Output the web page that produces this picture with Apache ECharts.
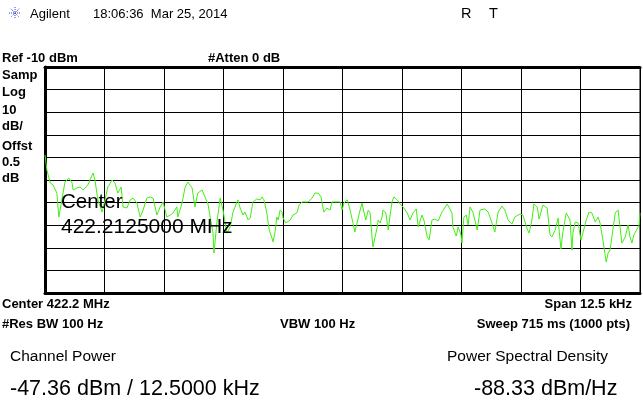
<!DOCTYPE html>
<html>
<head>
<meta charset="utf-8">
<script src="https://cdn.jsdelivr.net/npm/echarts@6/dist/echarts.min.js"></script>
<style>
  html, body { margin: 0; padding: 0; background: #fff; }
  #main { width: 643px; height: 406px; }
</style>
</head>
<body>
<div id="main"></div>
<script>
// trace: frequency from start of span (kHz) and level (dBm)
const freqKHz = [
  0, 0.04, 0.11, 0.17, 0.25, 0.29, 0.42, 0.50, 0.57, 0.59, 0.67, 0.74, 0.80, 0.90, 1.01, 1.05, 1.11, 1.20, 1.26, 1.32,
  1.41, 1.47, 1.53, 1.60, 1.64, 1.72, 1.79, 1.85, 1.93, 2.00, 2.06, 2.14, 2.21, 2.27, 2.35, 2.42, 2.48, 2.56, 2.63, 2.69,
  2.77, 2.79, 2.88, 2.94, 3.00, 3.09, 3.15, 3.21, 3.30, 3.36, 3.42, 3.47, 3.53, 3.55, 3.61, 3.68, 3.74, 3.82, 3.89, 3.95,
  4.05, 4.10, 4.16, 4.20, 4.27, 4.31, 4.37, 4.45, 4.52, 4.56, 4.60, 4.66, 4.71, 4.77, 4.79, 4.83, 4.87, 4.90, 4.94, 4.98,
  5.00, 5.06, 5.15, 5.21, 5.29, 5.34, 5.40, 5.53, 5.61, 5.67, 5.74, 5.80, 5.84, 5.86, 5.92, 5.99, 6.03, 6.20, 6.24, 6.28,
  6.35, 6.41, 6.47, 6.51, 6.56, 6.62, 6.66, 6.70, 6.74, 6.79, 6.83, 6.87, 6.89, 6.93, 6.98, 7.00, 7.04, 7.08, 7.10, 7.16,
  7.21, 7.25, 7.29, 7.33, 7.40, 7.46, 7.52, 7.61, 7.67, 7.73, 7.80, 7.84, 7.92, 7.96, 8.03, 8.07, 8.13, 8.19, 8.26, 8.34,
  8.45, 8.49, 8.55, 8.57, 8.64, 8.68, 8.74, 8.76, 8.80, 8.85, 8.89, 8.93, 8.99, 9.08, 9.14, 9.24, 9.31, 9.39, 9.45, 9.52,
  9.60, 9.66, 9.73, 9.81, 9.87, 9.98, 10.04, 10.13, 10.17, 10.23, 10.27, 10.34, 10.38, 10.42, 10.46, 10.55, 10.61, 10.65, 10.72, 10.78,
  10.80, 10.84, 10.88, 10.95, 10.99, 11.03, 11.07, 11.09, 11.14, 11.20, 11.26, 11.30, 11.37, 11.43, 11.49, 11.56, 11.62, 11.66, 11.72, 11.79,
  11.83, 11.87, 11.91, 11.98, 12.04, 12.08, 12.12, 12.19, 12.25, 12.29, 12.33, 12.37, 12.44, 12.48, 12.50
]
const levelDBm = [
  -48.9, -55.6, -61.3, -62.2, -65.8, -76.4, -60.9, -59.1, -61.3, -64.4, -63.5, -63.1, -64.4, -62.2, -56.9, -60.0, -68.8, -74.2, -68.8, -63.1,
  -60.0, -61.3, -65.8, -63.1, -71.9, -72.4, -68.8, -68.0, -70.2, -76.4, -73.3, -68.0, -67.5, -68.0, -75.5, -71.9, -69.7, -76.4, -75.5, -74.6,
  -71.9, -76.4, -70.2, -63.5, -60.9, -63.5, -71.9, -65.8, -64.4, -67.5, -70.2, -76.4, -83.5, -92.3, -79.0, -68.0, -73.3, -83.5, -80.8, -74.2,
  -68.8, -72.4, -75.5, -74.2, -77.7, -76.8, -69.7, -68.4, -68.8, -67.5, -68.8, -74.6, -82.1, -85.7, -87.4, -83.5, -76.4, -77.7, -73.3, -74.2,
  -76.8, -79.0, -77.7, -75.5, -74.6, -71.1, -69.7, -69.7, -68.0, -65.8, -65.8, -67.5, -72.4, -74.2, -72.4, -73.3, -69.7, -69.7, -73.3, -70.2,
  -68.8, -73.3, -79.0, -83.0, -78.6, -73.3, -70.2, -74.2, -77.7, -73.3, -74.6, -85.2, -89.6, -88.8, -80.8, -77.7, -79.0, -76.4, -73.3, -74.6,
  -82.1, -75.5, -69.7, -67.5, -68.8, -70.6, -71.9, -74.6, -77.7, -74.6, -72.8, -80.8, -75.5, -77.7, -85.2, -86.5, -77.7, -77.3, -78.1, -74.2,
  -70.6, -70.2, -74.6, -80.8, -84.8, -80.8, -84.3, -87.9, -76.4, -75.5, -79.9, -71.9, -74.2, -82.1, -73.3, -72.8, -74.2, -79.0, -83.0, -74.2,
  -71.5, -73.3, -77.7, -79.5, -76.4, -75.0, -75.5, -81.7, -83.5, -77.7, -70.6, -71.9, -77.3, -74.2, -71.1, -72.4, -84.3, -85.2, -82.1, -76.8,
  -82.1, -90.5, -83.0, -74.6, -74.2, -77.7, -91.0, -83.5, -78.6, -79.0, -86.5, -83.5, -77.7, -74.2, -74.6, -78.6, -76.4, -79.0, -86.5, -96.3,
  -92.3, -91.0, -85.2, -74.6, -73.3, -80.8, -87.9, -85.2, -79.9, -85.2, -87.9, -84.3, -81.7, -79.9, -74.6
]

const refLevel = -10      // dBm, top of screen
const dbPerDiv = 10
const spanKHz = 12.5

const leftLabels = ["Samp", "Log", "10", "dB/", "Offst", "0.5", "dB"]

const font = "'Liberation Sans', Arial, sans-serif"
const black = "#000"

let chart = echarts.init(document.getElementById("main"))

const txt = (x, y, text, size, opts) => Object.assign({
  type: "text",
  x: x, y: y, z: 100,
  style: Object.assign({
    text: text,
    fill: black,
    font: (opts && opts.bold ? "bold " : "") + size + "px " + font,
    textVerticalAlign: "middle"
  }, opts && opts.style)
}, opts && opts.el)

const logoRays = [0, 45, 90, 135].map(a => {
  const r = 6, rad = a * Math.PI / 180
  return {
    type: "line", z: 100,
    shape: { x1: 15 - r * Math.cos(rad), y1: 13 - r * Math.sin(rad), x2: 15 + r * Math.cos(rad), y2: 13 + r * Math.sin(rad) },
    style: { stroke: "#3a3ad8", lineWidth: 1, lineDash: [1, 1] }
  }
})

const leftY = [75, 92, 110, 126, 146, 162, 178]

let option = {
  backgroundColor: "#fff",
  animation: false,
  grid: { left: 45, top: 67, width: 595, height: 226, show: true, borderColor: black, borderWidth: 1 },
  xAxis: [{
    type: "value",
    min: 0, max: spanKHz, interval: spanKHz / 10,
    axisLine: { show: true, lineStyle: { color: black, width: 3 } },
    axisTick: { show: false },
    axisLabel: { show: false },
    splitLine: { show: true, lineStyle: { color: black, width: 1 } }
  }, {
    type: "value", position: "top",
    min: 0, max: spanKHz,
    axisLine: { show: true, lineStyle: { color: black, width: 3 } },
    axisTick: { show: false },
    axisLabel: { show: false },
    splitLine: { show: false }
  }],
  yAxis: {
    type: "value",
    min: refLevel - 10 * dbPerDiv, max: refLevel, interval: dbPerDiv,
    axisLine: { show: true, lineStyle: { color: black, width: 3 } },
    axisTick: { show: false },
    axisLabel: { show: false },
    splitLine: { show: true, lineStyle: { color: black, width: 1 } }
  },
  series: [{
    type: "line",
    xAxisIndex: 0,
    data: freqKHz.map((f, i) => [f, levelDBm[i]]),
    showSymbol: false,
    lineStyle: { color: "#40f010", width: 1 },
    z: 5
  }],
  graphic: [].concat(logoRays, [
    txt(30, 14, "Agilent", 13),
    txt(93, 14, "18:06:36  Mar 25, 2014", 13),
    txt(461, 14, "R", 14.5),
    txt(489, 14, "T", 14.5),

    txt(2, 58, "Ref -10 dBm", 13, { bold: true }),
    txt(208, 58, "#Atten 0 dB", 13, { bold: true })
  ], leftLabels.map((l, i) => txt(2, leftY[i], l, 13, { bold: true })), [
    txt(61, 202, "Center", 20.5),
    txt(61, 227, "422.2125000 MHz", 21),

    txt(2, 304, "Center 422.2 MHz", 13, { bold: true }),
    txt(632, 304, "Span 12.5 kHz", 13, { bold: true, style: { textAlign: "right" } }),
    txt(2, 324, "#Res BW 100 Hz", 13, { bold: true }),
    txt(280, 324, "VBW 100 Hz", 13, { bold: true }),
    txt(630, 324, "Sweep 715 ms (1000 pts)", 13, { bold: true, style: { textAlign: "right" } }),

    txt(10, 357, "Channel Power", 15.5),
    txt(447, 357, "Power Spectral Density", 15.5),
    txt(10, 389, "-47.36 dBm / 12.5000 kHz", 21.5),
    txt(474, 389, "-88.33 dBm/Hz", 21.5)
  ])
}

chart.setOption(option)
</script>
</body>
</html>
